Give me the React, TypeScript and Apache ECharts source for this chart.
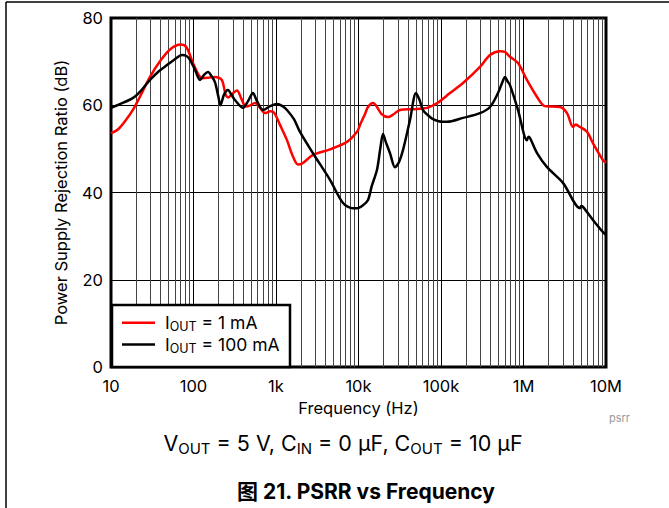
import React, { useEffect, useRef } from "react";
import * as echarts from "echarts";

// ---- data (frequency in Hz, PSRR in dB) ----
const freq1mA = [10, 12.2, 15, 18.5, 22.5, 29.7, 40, 52, 70, 82, 98.6, 115, 127, 150, 182, 220, 245, 265, 290, 337, 380, 430, 480, 556, 630, 736, 850, 950, 1118, 1358, 1600, 1848, 2100, 2807, 4514, 7260, 9590, 10430, 12000, 13040, 15000, 16500, 19000, 22790, 26000, 31840, 45800, 67700, 90000, 128600, 184800, 297000, 392700, 519000, 597000, 686000, 858000, 1.1e6, 1.46e6, 1.82e6, 2.77e6, 3.37e6, 3.98e6, 4.3e6, 4.58e6, 5.89e6, 6.95e6, 9.2e6, 1e7];
const psrr1mA = [53.6, 54.5, 56.5, 59, 62, 66.5, 70.3, 72.8, 73.9, 73.3, 69.7, 67, 66.2, 66.3, 66.5, 65.8, 62.5, 61.8, 62.5, 63.4, 61.5, 59.7, 59.9, 60.5, 59.6, 58.2, 58.6, 58.3, 55.5, 52, 48.3, 46.4, 46.7, 48.6, 49.9, 51.6, 53.9, 55.5, 58, 59.6, 60.5, 59.8, 58, 57.3, 57.8, 58.9, 59.1, 59.4, 60.5, 62.8, 65.1, 68.8, 71.5, 72.4, 72.2, 71.1, 69.7, 65.8, 61.9, 59.8, 59.6, 58.2, 55, 55.6, 55.3, 53.9, 51.3, 47.4, 46.8];

const freq100mA = [10, 13, 18.5, 23, 29.7, 38, 47.7, 60, 72.5, 82, 90.7, 105, 120, 135, 150, 165, 182, 200, 212, 235, 262, 290, 318, 398, 460, 526, 580, 695, 850, 1028, 1200, 1358, 1650, 1954, 2807, 4514, 6490, 8580, 9590, 11340, 13040, 14500, 16760, 18500, 19810, 21500, 24100, 27690, 31000, 34610, 42070, 49800, 55000, 60530, 73600, 80000, 102800, 118300, 184800, 297000, 392700, 491000, 560000, 597000, 640000, 686000, 858000, 1.1e6, 1.15e6, 1.2e6, 1.46e6, 1.93e6, 3.01e6, 4.84e6, 5.0e6, 5.26e6, 6.95e6, 9.2e6, 1e7];
const psrr100mA = [59.4, 60.3, 61.7, 63.3, 65.8, 67.8, 69.2, 70.6, 71.5, 71.3, 70.4, 68, 65.8, 67, 67.6, 66.7, 65.3, 62, 60, 62.5, 63.5, 62.3, 61.2, 59.4, 61, 62.8, 61.2, 58.9, 59.8, 60.3, 59.8, 58.9, 56.8, 53.9, 49, 42.9, 37.6, 36.4, 36.4, 37.1, 38.3, 41.5, 45.2, 50.5, 53.4, 51.5, 49, 45.8, 47, 49.7, 56.6, 62.8, 61.2, 58.9, 57.3, 56.8, 56.2, 56.2, 57.1, 58.2, 59.6, 62.8, 65.5, 66.5, 65.5, 64.6, 58.9, 52, 52.8, 52.5, 49, 45.8, 42.2, 36.4, 36.9, 36.7, 33.7, 30.9, 30.3];

const xTickLabels = ["10", "100", "1k", "10k", "100k", "1M", "10M"];
const decades = [10, 100, 1000, 10000, 100000, 1000000];
const seriesNames = ["1 mA", "100 mA"];

const FONT = 'Inter, "Noto Sans CJK SC", sans-serif';

export default function App() {
  const ref = useRef<HTMLDivElement>(null);

  useEffect(() => {
    document.body.style.margin = "0";
    if (!ref.current) return;
    const chart = echarts.init(ref.current, null, { renderer: "svg" });

    const minorLines: { xAxis: number }[] = [];
    decades.forEach((d) => {
      for (let k = 2; k <= 9; k++) minorLines.push({ xAxis: d * k });
    });

    const legendRich = {
      a: { fontSize: 17.5, lineHeight: 20, color: "#000", fontFamily: FONT },
      s: { fontSize: 12.5, lineHeight: 15, verticalAlign: "bottom", color: "#000", fontFamily: FONT },
    };
    const capRich = {
      a: { fontSize: 21.5, lineHeight: 26, fill: "#000", fontFamily: FONT },
      s: { fontSize: 15, lineHeight: 19, verticalAlign: "bottom", fill: "#000", fontFamily: FONT },
    };

    chart.setOption({
      animation: false,
      backgroundColor: "#fff",
      textStyle: { fontFamily: FONT },
      grid: {
        left: 111,
        top: 18,
        right: 63,
        bottom: 141,
        show: true,
        borderColor: "#000",
        borderWidth: 3,
        backgroundColor: "transparent",
      },
      xAxis: {
        type: "log",
        logBase: 10,
        min: 10,
        max: 1e7,
        axisLine: { show: false },
        axisTick: { show: false },
        axisLabel: {
          color: "#000",
          fontSize: 16.5,
          margin: 11,
          fontFamily: FONT,
          formatter: (v: number) => xTickLabels[Math.round(Math.log10(v)) - 1] ?? "",
        },
        splitLine: { show: true, lineStyle: { color: "#000", width: 1 } },
        name: "Frequency (Hz)",
        nameLocation: "middle",
        nameGap: 32,
        nameTextStyle: { color: "#000", fontSize: 16.5, fontFamily: FONT },
      },
      yAxis: {
        type: "value",
        min: 0,
        max: 80,
        interval: 20,
        axisLine: { show: false },
        axisTick: { show: false },
        axisLabel: { color: "#000", fontSize: 16.5, margin: 8, fontFamily: FONT },
        splitLine: { show: true, lineStyle: { color: "#000", width: 1 } },
        name: "Power Supply Rejection Ratio (dB)",
        nameLocation: "middle",
        nameGap: 42,
        nameTextStyle: { color: "#000", fontSize: 16.5, fontFamily: FONT },
      },
      legend: {
        orient: "vertical",
        left: 122,
        top: 314,
        padding: 0,
        icon: "rect",
        itemWidth: 33,
        itemHeight: 2.5,
        itemGap: 3,
        z: 10,
        data: seriesNames,
        formatter: (name: string) => `{a|I}{s|OUT}{a| = ${name}}`,
        textStyle: { rich: legendRich, padding: [0, 0, 0, 5] },
      },
      graphic: [
        {
          type: "rect",
          z: 5,
          shape: { x: 112, y: 305, width: 178, height: 62 },
          style: { fill: "#fff", stroke: "#000", lineWidth: 2.5 },
        },
        {
          type: "line",
          z: 5,
          shape: { x1: 6, y1: 2, x2: 669, y2: 2 },
          style: { stroke: "#000", lineWidth: 1.5 },
        },
        {
          type: "line",
          z: 5,
          shape: { x1: 6, y1: 2, x2: 6, y2: 508 },
          style: { stroke: "#000", lineWidth: 1.5 },
        },
        {
          type: "text",
          x: 609,
          y: 412,
          style: { text: "psrr", fill: "#999", fontSize: 11, fontFamily: FONT },
        },
        {
          type: "text",
          x: 343,
          y: 443,
          style: {
            text: "{a|V}{s|OUT}{a| = 5 V, C}{s|IN}{a| = 0 μF, C}{s|OUT}{a| = 10 μF}",
            rich: capRich,
            align: "center",
            verticalAlign: "middle",
          },
        },
        {
          type: "text",
          x: 366,
          y: 491,
          style: {
            text: "图 21. PSRR vs Frequency",
            fill: "#000",
            fontSize: 21,
            fontWeight: "bold",
            fontFamily: FONT,
            align: "center",
            verticalAlign: "middle",
          },
        },
      ],
      series: [
        {
          type: "line",
          data: [],
          silent: true,
          z: 1,
          markLine: {
            silent: true,
            z: 1,
            symbol: ["none", "none"],
            label: { show: false },
            lineStyle: { color: "#444", width: 1, type: "solid" },
            emphasis: { disabled: true },
            data: minorLines,
          },
        },
        {
          name: seriesNames[0],
          type: "line",
          data: freq1mA.map((f, i) => [f, psrr1mA[i]]),
          symbol: "none",
          smooth: 0.3,
          lineStyle: { color: "#ff0000", width: 2.5 },
          itemStyle: { color: "#ff0000" },
          z: 3,
        },
        {
          name: seriesNames[1],
          type: "line",
          data: freq100mA.map((f, i) => [f, psrr100mA[i]]),
          symbol: "none",
          smooth: 0.3,
          lineStyle: { color: "#000", width: 2.5 },
          itemStyle: { color: "#000" },
          z: 3,
        },
      ],
    });

    return () => chart.dispose();
  }, []);

  return <div ref={ref} style={{ width: 669, height: 508 }} />;
}
